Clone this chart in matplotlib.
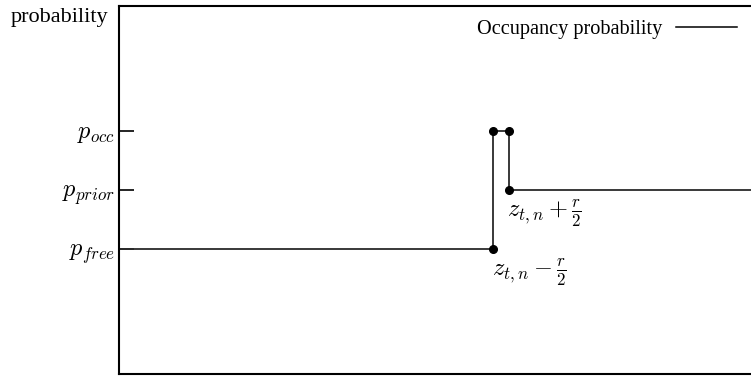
import matplotlib.pyplot as plt
import matplotlib as mpl

mpl.rcParams['font.family'] = ['Liberation Serif', 'DejaVu Serif']
mpl.rcParams['mathtext.fontset'] = 'cm'

# probability levels
p_free = 0.34
p_prior = 0.50
p_occ = 0.66
tick_vals = [p_free, p_prior, p_occ]
tick_labels = [r'$p_{free}$', r'$p_{prior}$', r'$p_{occ}$']

# cell borders along the ray
z_minus = 0.578
z_plus = 0.603
x_end = 1.0

curve_x = [0.0, z_minus, z_minus, z_plus, z_plus, x_end]
curve_y = [p_free, p_free, p_occ, p_occ, p_prior, p_prior]
dot_x = [z_minus, z_minus, z_plus, z_plus]
dot_y = [p_free, p_occ, p_occ, p_prior]

fig = plt.figure(figsize=(7.51, 3.76), dpi=100)
# right spine sits just outside the canvas, as in the cropped original
ax = fig.add_axes([119 / 751, 2 / 376, 647 / 751, 368 / 376])

ax.plot(curve_x, curve_y, color='#2a2a2a', lw=1.3)
ax.plot(dot_x, dot_y, 'o', color='black', ms=5.5, ls='none')

# legend entry
ax.plot([], [], color='black', lw=1.1, label='Occupancy probability')
ax.legend(loc='upper right', frameon=False, markerfirst=False, fontsize=14.6,
          handlelength=3.0, handletextpad=0.7, borderaxespad=0.3,
          bbox_to_anchor=(0.977, 1.0))

ax.annotate(r'$z_{t,n} - \frac{r}{2}$', (z_minus, p_free), xytext=(-1, -5),
            textcoords='offset points', fontsize=17.5, ha='left', va='top')
ax.annotate(r'$z_{t,n} + \frac{r}{2}$', (z_plus, p_prior), xytext=(-1.5, -5),
            textcoords='offset points', fontsize=17.5, ha='left', va='top')

ax.set_xlim(0, 1)
ax.set_ylim(0, 1)
ax.set_xticks([])
ax.set_yticks(tick_vals)
ax.set_yticklabels(tick_labels, fontsize=17.5)
ax.tick_params(axis='y', direction='in', length=11, width=1.2, right=True, pad=3)

for s in ax.spines.values():
    s.set_linewidth(1.5)

ax.set_ylabel('probability', rotation=0, ha='right', va='top', fontsize=16)
ax.yaxis.set_label_coords(-0.016, 0.995)

fig.savefig('out.png', dpi=100)
